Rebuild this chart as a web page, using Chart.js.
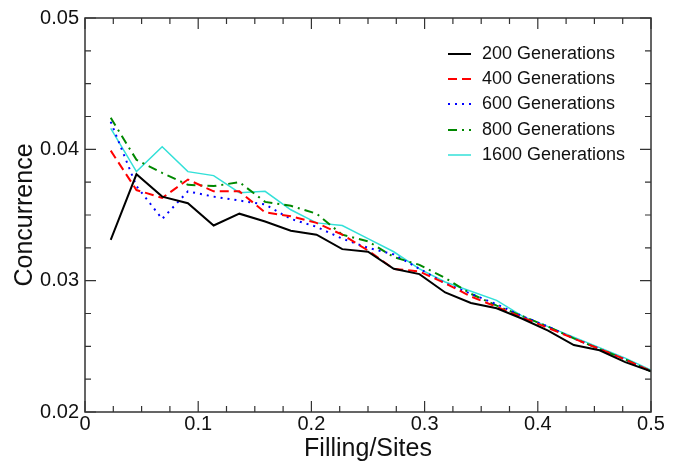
<!DOCTYPE html>
<html>
<head>
<meta charset="utf-8">
<script src="https://cdn.jsdelivr.net/npm/chart.js@4"></script>
<style>
  html, body { margin: 0; padding: 0; background: #fff; }
  #wrap { width: 678px; height: 464px; }
</style>
</head>
<body>
<div id="wrap"><canvas id="myChart" width="678" height="464"></canvas></div>
<script>
// Filling/Sites = k/44, k = 1..22
const filling = [1,2,3,4,5,6,7,8,9,10,11,12,13,14,15,16,17,18,19,20,21,22].map(k => k / 44);

const gen200  = [0.0331,0.0381,0.0364,0.0359,0.0342,0.0351,0.0345,0.0338,0.0335,0.0324,0.0322,0.0309,0.0305,0.0291,0.0283,0.0279,0.0271,0.0262,0.0251,0.0247,0.0238,0.0231];
const gen400  = [0.0399,0.0369,0.0363,0.0377,0.0368,0.0368,0.0352,0.0349,0.0344,0.0335,0.0323,0.0309,0.0307,0.0298,0.0288,0.0280,0.0272,0.0264,0.0256,0.0248,0.0240,0.0231];
const gen600  = [0.0421,0.0372,0.0347,0.0368,0.0364,0.0361,0.0358,0.0347,0.0341,0.0332,0.0325,0.0320,0.0309,0.0298,0.0290,0.0282,0.0273,0.0265,0.0256,0.0248,0.0240,0.0231];
const gen800  = [0.0424,0.0392,0.0382,0.0373,0.0372,0.0375,0.0360,0.0357,0.0351,0.0335,0.0330,0.0318,0.0312,0.0302,0.0290,0.0281,0.0273,0.0265,0.0256,0.0248,0.0240,0.0231];
const gen1600 = [0.0416,0.0383,0.0402,0.0383,0.0380,0.0367,0.0368,0.0354,0.0344,0.0342,0.0332,0.0322,0.0309,0.0299,0.0292,0.0285,0.0273,0.0265,0.0257,0.0249,0.0241,0.0232];

const seriesLabels = ["200 Generations", "400 Generations", "600 Generations", "800 Generations", "1600 Generations"];
const xTicks = [0, 0.1, 0.2, 0.3, 0.4, 0.5];
const yTicks = [0.02, 0.03, 0.04, 0.05];

const FONT = "'Liberation Sans', Arial, Helvetica, sans-serif";

const styles = [
  { color: "#000000", dash: [],          width: 2 },
  { color: "#ff0000", dash: [9, 5],      width: 2 },
  { color: "#0000ff", dash: [2, 5],      width: 2 },
  { color: "#008800", dash: [9, 5, 2, 5], width: 2 },
  { color: "#33e0d8", dash: [],          width: 1.5 }
];

function pts(values) {
  return values.map((v, i) => ({ x: filling[i], y: v }));
}

const allSeries = [gen200, gen400, gen600, gen800, gen1600];

// frame, inside ticks and legend
const framePlugin = {
  id: "frame",
  afterDraw(chart) {
    const ctx = chart.ctx;
    const a = chart.chartArea;
    const xs = chart.scales.x, ys = chart.scales.y;
    ctx.save();
    ctx.strokeStyle = "#333";
    ctx.lineWidth = 1.5;
    ctx.strokeRect(a.left, a.top, a.right - a.left, a.bottom - a.top);
    ctx.lineWidth = 1.2;
    ctx.beginPath();
    for (let v = 0; v <= 0.5001; v += 0.025) {
      const px = xs.getPixelForValue(v);
      const major = Math.abs(v * 10 - Math.round(v * 10)) < 1e-6;
      const len = major ? 11 : 6;
      ctx.moveTo(px, a.bottom); ctx.lineTo(px, a.bottom - len);
      ctx.moveTo(px, a.top); ctx.lineTo(px, a.top + len);
    }
    for (let v = 0.02; v <= 0.05001; v += 0.0025) {
      const py = ys.getPixelForValue(v);
      const major = Math.abs(v * 100 - Math.round(v * 100)) < 1e-6;
      const len = major ? 11 : 6;
      ctx.moveTo(a.left, py); ctx.lineTo(a.left + len, py);
      ctx.moveTo(a.right, py); ctx.lineTo(a.right - len, py);
    }
    ctx.stroke();

    // legend
    const rowY = [54, 79, 104, 130, 155];
    ctx.font = "18px " + FONT;
    ctx.textBaseline = "middle";
    ctx.fillStyle = "#111";
    seriesLabels.forEach((lab, i) => {
      const s = styles[i];
      ctx.strokeStyle = s.color;
      ctx.lineWidth = s.width;
      ctx.setLineDash(s.dash);
      ctx.beginPath();
      ctx.moveTo(448, rowY[i]);
      ctx.lineTo(471, rowY[i]);
      ctx.stroke();
      ctx.setLineDash([]);
      ctx.fillText(lab, 482, rowY[i]);
    });
    ctx.restore();
  }
};

new Chart(document.getElementById("myChart").getContext("2d"), {
  type: "line",
  data: {
    datasets: allSeries.map((vals, i) => ({
      label: seriesLabels[i],
      data: pts(vals),
      borderColor: styles[i].color,
      borderWidth: styles[i].width,
      borderDash: styles[i].dash,
      pointRadius: 0,
      fill: false,
      tension: 0
    }))
  },
  options: {
    responsive: false,
    animation: false,
    layout: { padding: { top: 18, right: 27, left: 0, bottom: 0 } },
    plugins: { legend: { display: false }, tooltip: { enabled: false } },
    scales: {
      x: {
        type: "linear",
        min: 0, max: 0.5,
        afterBuildTicks: s => { s.ticks = xTicks.map(v => ({ value: v })); },
        afterFit: s => { s.height = 52; },
        grid: { display: false },
        border: { display: false },
        ticks: {
          color: "#111",
          font: { family: FONT, size: 20 },
          padding: -8,
          maxRotation: 0,
          callback: v => (v === 0 ? "0" : v.toFixed(1))
        },
        title: {
          display: true, text: "Filling/Sites", color: "#111",
          font: { family: FONT, size: 25 },
          padding: { top: 0, bottom: 0 }
        }
      },
      y: {
        type: "linear",
        min: 0.02, max: 0.05,
        afterBuildTicks: s => { s.ticks = yTicks.map(v => ({ value: v })); },
        afterFit: s => { s.width = 85; },
        grid: { display: false },
        border: { display: false },
        ticks: {
          color: "#111",
          font: { family: FONT, size: 20 },
          padding: -2,
          callback: v => v.toFixed(2)
        },
        title: {
          display: true, text: "Concurrence", color: "#111",
          font: { family: FONT, size: 25 },
          padding: { top: 10, bottom: 0 }
        }
      }
    }
  },
  plugins: [framePlugin]
});
</script>
</body>
</html>
